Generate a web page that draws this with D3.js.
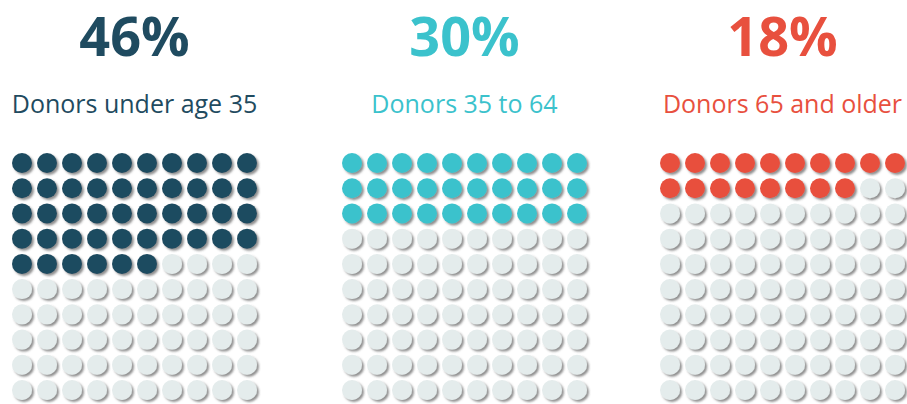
<!DOCTYPE html>
<html>
<head>
<meta charset="utf-8">
<script src="https://cdn.jsdelivr.net/npm/d3@7"></script>
<style>
  body { margin: 0; background: #fff; }
  svg { display: block; font-family: "Open Sans", sans-serif; }
</style>
</head>
<body>
<div id="chart"></div>
<script>
// data
var groups = ["Donors under age 35", "Donors 35 to 64", "Donors 65 and older"];
var percents = [46, 30, 18];
var colors = ["#1f4b60", "#3bc2cc", "#e8503e"];
var emptyColor = "#e4ecec";

var width = 907, height = 404;
var centers = [134.5, 464.5, 782.5];

var svg = d3.select("#chart").append("svg")
    .attr("width", width)
    .attr("height", height);

var defs = svg.append("defs");
var f = defs.append("filter").attr("id", "shadow")
    .attr("x", "-30%").attr("y", "-30%").attr("width", "170%").attr("height", "170%");
f.append("feDropShadow")
    .attr("dx", 2).attr("dy", 2)
    .attr("stdDeviation", 1.1)
    .attr("flood-color", "#444")
    .attr("flood-opacity", 0.6);

var cells = d3.range(100);
var col = d3.scaleLinear().domain([0, 9]).range([-112.5, 112.5]);
var row = d3.scaleLinear().domain([0, 9]).range([163, 390]);

var g = svg.selectAll("g.waffle")
    .data(groups)
    .enter()
    .append("g")
    .attr("class", "waffle")
    .attr("transform", function(d, i) { return "translate(" + centers[i] + ",0)"; });

g.append("text")
    .attr("class", "pct")
    .attr("y", 56)
    .attr("text-anchor", "middle")
    .style("font-size", "54px")
    .style("font-weight", "700")
    .style("fill", function(d, i) { return colors[i]; })
    .text(function(d, i) { return percents[i] + "%"; });

g.append("text")
    .attr("class", "label")
    .attr("y", 113)
    .attr("text-anchor", "middle")
    .style("font-size", "25px")
    .style("fill", function(d, i) { return colors[i]; })
    .text(function(d) { return d; });

g.each(function(d, i) {
    d3.select(this).selectAll("circle")
        .data(cells)
        .enter()
        .append("circle")
        .attr("cx", function(c) { return col(c % 10); })
        .attr("cy", function(c) { return row(Math.floor(c / 10)); })
        .attr("r", 10)
        .attr("filter", "url(#shadow)")
        .style("fill", function(c) { return c < percents[i] ? colors[i] : emptyColor; });
});
</script>
</body>
</html>
